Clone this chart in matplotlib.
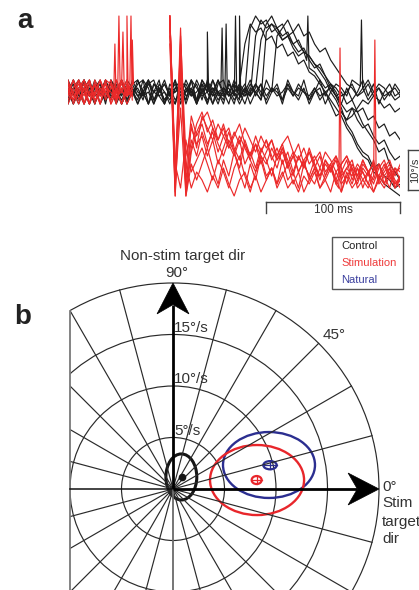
import numpy as np
import matplotlib
matplotlib.use('Agg')
import matplotlib.pyplot as plt
from matplotlib.patches import Ellipse, Circle, Rectangle, Polygon

plt.rcParams['font.family'] = ['Liberation Sans', 'DejaVu Sans']

W, H, DPI = 419, 590, 100

# ---------------- Panel a : eye velocity traces (deg/s), 4-ms samples ----------------
DT = 4.0
black_early = [
    [2,-1,3,0,-3,1,3,-2,0,2,-3,1,0,-2,3,1,-3,0,2,-1,3,-2,0,1,-3,2,0,3,-1,1,0,-3,2],
    [-2,3,0,-3,1,-1,0,3,-2,1,-3,0,2,3,-1,0,-3,2,0,-2,1,3,-1,0,2,-2,3,0,-3,1,-1,0,2],
    [0,-3,1,3,-1,0,2,-3,3,0,-2,1,-1,3,0,-3,2,1,-2,0,3,-3,1,0,-2,3,1,-1,0,-3,2,0,-2],
    [3,0,-2,1,-3,2,0,-1,2,0,3,-3,0,1,-2,3,0,-1,-3,2,0,1,-2,3,-3,0,2,-1,3,0,1,-2,0],
    [-3,1,0,3,-1,2,-3,0,1,-2,3,0,-1,2,3,-3,0,1,-2,0,-3,3,1,-1,0,2,-3,3,0,-1,2,0,-3],
    [2,0,-3,1,3,-1,0,-2,3,1,-3,0,2,-1,0,3,-2,1,-3,0,2,-1,3,0,-3,1,-2,0,3,-1,0,2,-1],
    [0,2,-2,3,0,-3,1,2,-1,0,3,-2,1,-3,0,2,3,-1,0,-3,1,0,-2,3,1,-1,0,-3,2,3,-1,0,1],
    [-2,1,3,-3,0,2,-1,3,0,-2,1,-3,3,0,-1,2,0,3,-3,1,-2,0,2,-1,3,0,-3,1,0,-2,3,-1,1],
    [1,-3,0,2,-1,3,0,-2,1,-3,0,3,1,-1,0,-3,2,0,3,-1,0,2,-3,1,-2,3,0,1,-2,0,-3,2,0],
    [0,3,-1,0,2,-3,1,0,-2,3,-1,2,0,-3,1,3,-2,0,2,-1,-3,1,0,3,-2,0,2,-3,0,1,-1,3,0],
]
black_late = [
    [0,3,-1,2,-3,0,2,-2,3,0,-2,1,-3,0,3,-1,2,0,-3,1,-2,0,3,-1,2,-3,0,2,-1,0],
    [12,17,15,16,13,14,11,12,9,10,7,8,5,4,2,0,-3,-6,-5,-7,-4,-5,-8,-10,-12,-15,-14,-18,-20,-22],
    [1,-1,14,18,16,17,15,13,14,12,10,11,8,6,7,4,2,1,-1,0,2,-1,1,-2,0,1,-1,0,-2,-1],
    [-1,2,0,-2,15,17,16,14,15,12,13,10,9,7,5,3,0,-2,-5,-7,-6,-4,-2,-3,-1,-2,-4,-3,-5,-4],
    [0,16,19,17,18,15,16,13,14,11,9,10,6,5,3,1,2,-1,-4,-8,-10,-13,-15,-16,-19,-18,-21,-22,-24,-23],
    [1,-3,0,2,-1,1,0,-2,1,-1,2,0,-1,1,-2,0,1,-1,0,-3,-2,-5,-4,-7,-6,-9,-8,-11,-10,-12],
    [-1,0,2,-1,1,0,14,16,18,15,17,14,15,12,10,11,8,6,4,2,1,-1,0,2,-1,1,-2,0,1,-1],
    [0,-1,2,0,-2,1,-1,0,2,-1,1,0,-2,1,-1,0,-2,-4,-6,-9,-11,-14,-16,-17,-20,-21,-23,-24,-25,-26],
    [2,-1,1,13,17,19,16,17,14,15,12,10,9,7,6,4,1,-1,-3,-5,-4,-7,-9,-8,-11,-13,-12,-15,-17,-16],
    [-3,1,0,-2,3,0,1,-3,2,0,-1,3,-2,0,1,-3,0,2,1,-1,3,2,1,3,0,2,1,-1,2,0],
]
# (trace index, time ms, peak deg/s)
black_spikes = [(0,104,15),(5,115,16),(9,118,17),(7,125,19),(2,128,19),(4,179,19),(9,219,18)]

RED_PRE_T0, RED_ART_T0, RED_POST_T0 = 0, 76, 100
red_pre = [
    [2,-3,0,3,-1,2,-3,1,0,-2,3,0,-1],
    [-2,1,3,-3,0,2,-1,3,-3,0,2,-1,0],
    [0,3,-2,1,-3,3,0,-1,2,-3,3,0,2],
    [3,-1,0,2,-3,0,3,-2,1,0,-3,2,-1],
    [-3,0,2,-1,3,-3,1,0,-2,3,0,-1,1],
    [1,-2,3,0,-3,2,-1,0,3,-2,1,-3,0],
    [0,-2,1,3,-1,0,-3,3,2,-1,0,3,-2],
    [-1,3,0,-3,2,-1,3,0,-2,1,-3,0,2],
    [2,0,-3,1,3,-2,0,2,-3,0,3,-1,1],
]
red_art = [
    [19,-24,8,-22,-12,-16],
    [17,-20,12,-25,-8,-14],
    [19,-26,5,-18,-24,-20],
    [14,-22,16,-26,-15,-10],
    [18,-18,-24,-12,-20,-17],
    [16,-25,10,-20,-6,-11],
    [19,-23,-4,-26,-18,-22],
    [12,-26,14,-16,-9,-13],
    [19,-21,6,-24,-14,-8],
]
red_post = [
    [-10,-14,-9,-13,-16,-12,-15,-11,-14,-17,-13,-16,-18,-14,-17,-15,-19,-16,-20,-17,-15,-19,-21,-18,-20,-17,-22,-19,-21,-18,-20,-23,-19,-21,-18,-22,-20,-19],
    [-6,-9,-12,-8,-11,-14,-10,-13,-9,-12,-15,-11,-14,-12,-16,-13,-11,-15,-17,-14,-18,-16,-19,-15,-17,-20,-18,-16,-19,-21,-17,-20,-18,-22,-19,-17,-21,-18],
    [-22,-25,-21,-24,-19,-23,-26,-22,-20,-24,-21,-25,-22,-19,-23,-20,-24,-22,-25,-21,-23,-20,-24,-22,-19,-23,-25,-21,-24,-22,-20,-23,-25,-22,-24,-21,-23,-22],
    [-7,-5,-9,-12,-8,-13,-16,-12,-18,-15,-19,-14,-17,-21,-16,-13,-18,-15,-20,-17,-22,-19,-16,-21,-18,-23,-20,-17,-22,-19,-24,-20,-18,-23,-21,-19,-24,-22],
    [-14,-18,-22,-17,-20,-24,-19,-16,-21,-25,-20,-17,-22,-19,-24,-21,-18,-23,-20,-25,-22,-19,-24,-21,-18,-22,-25,-20,-23,-19,-22,-24,-21,-18,-23,-20,-24,-21],
    [-8,-13,-10,-15,-11,-9,-14,-17,-12,-16,-13,-18,-15,-12,-17,-14,-19,-16,-13,-18,-21,-17,-15,-20,-18,-16,-21,-19,-17,-22,-18,-20,-23,-19,-17,-21,-19,-20],
    [-18,-14,-19,-23,-17,-21,-15,-20,-24,-18,-22,-16,-21,-19,-23,-17,-22,-20,-24,-18,-21,-23,-19,-22,-25,-20,-23,-21,-19,-24,-22,-20,-25,-21,-23,-19,-22,-24],
    [-11,-16,-12,-18,-14,-10,-15,-19,-13,-17,-20,-15,-12,-16,-19,-14,-17,-21,-16,-19,-14,-18,-22,-17,-20,-16,-19,-23,-18,-21,-17,-20,-22,-18,-21,-24,-19,-22],
    [-5,-10,-7,-12,-9,-14,-11,-8,-13,-16,-11,-15,-12,-17,-14,-18,-15,-20,-16,-19,-15,-18,-21,-17,-19,-22,-18,-16,-20,-23,-19,-21,-17,-22,-20,-18,-23,-21],
]
red_pre_spikes = [(0,35,12),(1,38,19),(2,41,15),(4,44,19),(6,47,19),(7,48,13)]
red_post_spikes = [(2,203,11),(4,229,13)]

scale_time_ms = 100
scale_vel = 10

# ---------------- Panel b : polar plot (deg/s) ----------------
ring_speeds = [5, 10, 15, 20]
ring_labels = ['5°/s', '10°/s', '15°/s']
spoke_step_deg = 15
r_max = 20
x_clip = -10

ell_names = ['Control', 'Stimulation', 'Natural']
ell_colors = ['#151515', '#e8262b', '#2b2e90']
ell_cx = [0.81, 8.16, 9.32]
ell_cy = [1.17, 0.87, 2.33]
ell_w = [3.0, 9.13, 8.93]
ell_h = [4.47, 6.8, 6.4]
mean_x = [0.87, 8.12, 9.42]
mean_y = [1.17, 0.87, 2.31]
sem_w = [None, 0.97, 1.3]
sem_h = [None, 0.78, 0.8]
legend_colors = ['#222222', '#ef3b3b', '#3a3f9e']

BLACK = '#1c1c1c'
RED = '#ec2a2a'
GRID = '#2a2a2a'
TXT = '#333333'

fig = plt.figure(figsize=(W / DPI, H / DPI), dpi=DPI)

# ===== panel a =====
BASE_Y = 92.0   # px of 0 deg/s
PXV = 4.0       # px per deg/s
PXT = 1.34      # px per ms
ax1 = fig.add_axes([68 / W, 1 - 200 / H, 332 / W, 190 / H])
ax1.set_xlim(0, 332 / PXT)
ax1.set_ylim((BASE_Y - 200) / PXV, (BASE_Y - 10) / PXV)
ax1.axis('off')


def with_spikes(t, v, spikes):
    t = np.asarray(t, float)
    v = np.asarray(v, float)
    tt, vv = list(t), list(v)
    for ts, pk in spikes:
        for dtt, val in ((-0.9, None), (0.0, pk), (0.9, None)):
            tq = ts + dtt
            tt.append(tq)
            vv.append(np.interp(tq, t, v) if val is None else val)
    order = np.argsort(tt, kind='stable')
    return np.array(tt)[order], np.array(vv)[order]


LW_TR = 0.85
for k, (a, b) in enumerate(zip(black_early, black_late)):
    v = a + b
    t = np.arange(len(v)) * DT
    sp = [(ts, pk) for (i, ts, pk) in black_spikes if i == k]
    tt, vv = with_spikes(t, v, sp)
    ax1.plot(tt, vv, color=BLACK, lw=LW_TR)

for k in range(len(red_pre)):
    t = RED_PRE_T0 + np.arange(len(red_pre[k])) * DT
    sp = [(ts, pk) for (i, ts, pk) in red_pre_spikes if i == k]
    tt, vv = with_spikes(t, red_pre[k], sp)
    ax1.plot(tt, vv, color=RED, lw=LW_TR)
    seg = red_art[k] + red_post[k]
    t2 = RED_ART_T0 + np.arange(len(seg)) * DT
    sp = [(ts, pk) for (i, ts, pk) in red_post_spikes if i == k]
    tt, vv = with_spikes(t2, seg, sp)
    ax1.plot(tt, vv, color=RED, lw=LW_TR)

# scale bars
t_end = 332 / PXT
vb = (BASE_Y - 202) / PXV
vt = (BASE_Y - 212.5) / PXV
sb_c = '#444444'
ax1.plot([t_end - scale_time_ms, t_end], [vb, vb], color=sb_c, lw=1, clip_on=False)
ax1.plot([t_end - scale_time_ms] * 2, [vb, vt], color=sb_c, lw=1, clip_on=False)
ax1.plot([t_end] * 2, [vb, vt], color=sb_c, lw=1, clip_on=False)
ax1.text(t_end - scale_time_ms / 2, (BASE_Y - 210) / PXV, f'{scale_time_ms} ms',
         ha='center', va='center', fontsize=8.5, color=TXT)
tv = (408 - 68) / PXT
tr = (419 - 68) / PXT
v1, v2 = -14.5, -14.5 - scale_vel
ax1.plot([tv, tv], [v1, v2], color=sb_c, lw=1, clip_on=False)
ax1.plot([tv, tr], [v1, v1], color=sb_c, lw=1, clip_on=False)
ax1.plot([tv, tr], [v2, v2], color=sb_c, lw=1, clip_on=False)
ax1.text((415.5 - 68) / PXT, (v1 + v2) / 2, f'{scale_vel}°/s', rotation=90,
         ha='center', va='center', fontsize=8, color=TXT, clip_on=False)

# ===== panel b =====
S = 10.3
OX, OY = 173.0, 489.0
TOP = 225.0
ax2 = fig.add_axes([0, 0, 1, (H - TOP) / H])
ax2.set_xlim(-OX / S, (W - OX) / S)
ax2.set_ylim(-(H - OY) / S, (OY - TOP) / S)
ax2.axis('off')

clip = Rectangle((x_clip, -40), 80, 80, transform=ax2.transData)

for r in ring_speeds:
    c = Circle((0, 0), r, fill=False, ec=GRID, lw=0.85)
    ax2.add_patch(c)
    c.set_clip_path(clip)

for ang in range(0, 360, spoke_step_deg):
    if ang % 90 == 0:
        continue
    th = np.deg2rad(ang)
    ln, = ax2.plot([0, r_max * np.cos(th)], [0, r_max * np.sin(th)], color=GRID, lw=0.85)
    ln.set_clip_path(clip)

ylo = -(H - OY) / S - 1
ax2.plot([x_clip, x_clip], [np.sqrt(r_max ** 2 - x_clip ** 2), ylo], color='#7a7a7a', lw=1.3)
ax2.plot([x_clip, 0], [0, 0], color='#111111', lw=1.1)
ax2.plot([0, 0], [0, ylo], color='#6a6a6a', lw=1.3)

# thick axes with stealth arrowheads
hl, hb, hw = 3.0, 2.1, 1.55
ax2.plot([0, 0], [0, r_max - hb], color='black', lw=2.0, solid_capstyle='butt')
ax2.plot([0, r_max - hb], [0, 0], color='black', lw=2.0, solid_capstyle='butt')
ax2.add_patch(Polygon([(0, r_max), (hw, r_max - hl), (0, r_max - hb), (-hw, r_max - hl)],
                      closed=True, fc='black', ec='black', lw=0.5))
ax2.add_patch(Polygon([(r_max, 0), (r_max - hl, -hw), (r_max - hb, 0), (r_max - hl, hw)],
                      closed=True, fc='black', ec='black', lw=0.5))

# ellipses
lws = [2.2, 1.7, 1.7]
for i in [2, 1, 0]:
    ax2.add_patch(Ellipse((ell_cx[i], ell_cy[i]), ell_w[i], ell_h[i], fill=False,
                          ec=ell_colors[i], lw=lws[i]))
    if sem_w[i] is None:
        ax2.plot(mean_x[i], mean_y[i], 'o', color=ell_colors[i], ms=4.5)
    else:
        ax2.add_patch(Ellipse((mean_x[i], mean_y[i]), sem_w[i], sem_h[i], fill=False,
                              ec=ell_colors[i], lw=1.6))
        ax2.plot([mean_x[i] - sem_w[i] / 2, mean_x[i] + sem_w[i] / 2], [mean_y[i]] * 2,
                 color=ell_colors[i], lw=0.9)
        ax2.plot([mean_x[i]] * 2, [mean_y[i] - sem_h[i] / 2, mean_y[i] + sem_h[i] / 2],
                 color=ell_colors[i], lw=0.9)

# labels
FS = 11
ax2.text(0.9, 22.6, 'Non-stim target dir', ha='center', va='center', fontsize=FS, color=TXT)
ax2.text(0.4, 21.0, '90°', ha='center', va='center', fontsize=FS, color=TXT)
for r, lab in zip(ring_speeds, ring_labels):
    ax2.text(0.1, r + 0.65, lab, ha='left', va='center', fontsize=FS, color=TXT)
ax2.text(14.55, 14.95, '45°', ha='left', va='center', fontsize=FS, color=TXT)
ax2.text(20.3, 0.2, '0°', ha='left', va='center', fontsize=FS, color=TXT)
for yy, lab in zip([-1.36, -3.2, -4.9], ['Stim', 'target', 'dir']):
    ax2.text(20.3, yy, lab, ha='left', va='center', fontsize=FS, color=TXT)

# legend box
fig.patches.append(Rectangle((332 / W, 1 - 289 / H), 71 / W, 52 / H, transform=fig.transFigure,
                             fill=False, ec='#555555', lw=1.0))
for yy, name, col in zip([246, 263, 280], ell_names, legend_colors):
    fig.text(341 / W, 1 - yy / H, name, ha='left', va='center', fontsize=8, color=col)

fig.text(17 / W, 1 - 28 / H, 'a', fontsize=20, fontweight='bold', va='baseline', color='#222222')
fig.text(14 / W, 1 - 324 / H, 'b', fontsize=20, fontweight='bold', va='baseline', color='#222222')

fig.savefig('out.png', dpi=DPI)
